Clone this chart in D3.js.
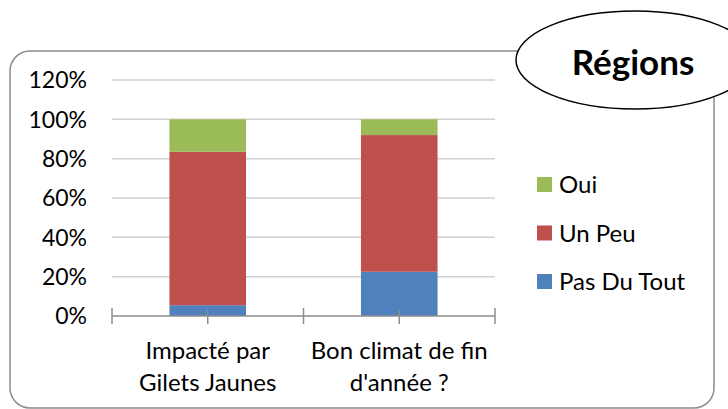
<!DOCTYPE html>
<html>
<head>
<meta charset="utf-8">
<script src="https://cdn.jsdelivr.net/npm/d3@7"></script>
<style>
  body { margin: 0; background: #fff; }
  text { font-family: Lato, 'Open Sans', sans-serif; fill: #000; }
</style>
</head>
<body>
<svg></svg>
<script>
var width = 728,
    height = 409;

// Data
var categories = ['Impacté par|Gilets Jaunes', "Bon climat de fin|d'année ?"];
var seriesNames = ['Pas Du Tout', 'Un Peu', 'Oui'];
var pasDuTout = [0.055, 0.225];
var unPeu = [0.78, 0.695];
var oui = [0.165, 0.08];
var yTicks = [0, 0.2, 0.4, 0.6, 0.8, 1.0, 1.2];
var colors = ['#4F81BD', '#C0504D', '#9BBB59'];
var title = 'Régions';

var rows = categories.map(function(c, i) {
    return { cat: c, 'Pas Du Tout': pasDuTout[i], 'Un Peu': unPeu[i], 'Oui': oui[i] };
});

var svg = d3.select('svg')
    .attr('width', width)
    .attr('height', height);

// Chart frame
svg.append('rect')
    .attr('x', 10)
    .attr('y', 51)
    .attr('width', 704)
    .attr('height', 357)
    .attr('rx', 20)
    .attr('fill', '#fff')
    .attr('stroke', '#8c8c8c')
    .attr('stroke-width', 1.5);

var x = d3.scaleBand()
    .domain(categories)
    .range([112, 495])
    .paddingInner(0)
    .paddingOuter(0);

var y = d3.scaleLinear()
    .domain([0, 1.2])
    .range([316, 80]);

var color = d3.scaleOrdinal()
    .domain(seriesNames)
    .range(colors);

// Gridlines
svg.append('g')
    .selectAll('line')
    .data(yTicks.filter(function(d) { return d > 0; }))
    .enter().append('line')
    .attr('x1', 112)
    .attr('x2', 495)
    .attr('y1', function(d) { return y(d); })
    .attr('y2', function(d) { return y(d); })
    .attr('stroke', '#d0d0d0')
    .attr('stroke-width', 1.5);

// Y labels
svg.append('g')
    .selectAll('text')
    .data(yTicks)
    .enter().append('text')
    .attr('x', 87)
    .attr('y', function(d) { return y(d); })
    .attr('dy', '0.36em')
    .attr('text-anchor', 'end')
    .style('font-size', '23px')
    .text(d3.format('.0%'));

// Stacked bars
var stack = d3.stack().keys(seriesNames)(rows);
var barW = x.bandwidth() * 0.4;

svg.append('g')
    .selectAll('g')
    .data(stack)
    .enter().append('g')
    .attr('fill', function(d) { return color(d.key); })
    .selectAll('rect')
    .data(function(d) { return d; })
    .enter().append('rect')
    .attr('x', function(d) { return x(d.data.cat) + (x.bandwidth() - barW) / 2; })
    .attr('y', function(d) { return y(d[1]); })
    .attr('width', barW)
    .attr('height', function(d) { return y(d[0]) - y(d[1]); });

// X axis line with ticks at band edges and centres
var axisG = svg.append('g').attr('stroke', '#8c8c8c').attr('stroke-width', 1.5);
axisG.append('line')
    .attr('x1', 112).attr('x2', 495)
    .attr('y1', y(0)).attr('y2', y(0));
var tickXs = [x.range()[0]];
categories.forEach(function(c) {
    tickXs.push(x(c) + x.bandwidth() / 2);
    tickXs.push(x(c) + x.bandwidth());
});
axisG.selectAll('line.tick')
    .data(tickXs)
    .enter().append('line')
    .attr('class', 'tick')
    .attr('x1', function(d) { return d; })
    .attr('x2', function(d) { return d; })
    .attr('y1', function(d, i) { return i % 2 ? y(0) - 6 : y(0) - 8; })
    .attr('y2', y(0) + 8);

// Category labels
svg.append('g')
    .selectAll('text')
    .data(categories)
    .enter().append('text')
    .attr('text-anchor', 'middle')
    .style('font-size', '24px')
    .each(function(d) {
        var t = d3.select(this);
        d.split('|').forEach(function(line, i) {
            t.append('tspan')
                .attr('x', x(d) + x.bandwidth() / 2)
                .attr('y', 359 + i * 31.5)
                .text(line);
        });
    });

// Legend
var legend = svg.append('g')
    .selectAll('g')
    .data(seriesNames.slice().reverse())
    .enter().append('g')
    .attr('transform', function(d, i) { return 'translate(537,' + (177 + i * 48.5) + ')'; });

legend.append('rect')
    .attr('width', 15)
    .attr('height', 15)
    .attr('fill', function(d) { return color(d); });

legend.append('text')
    .attr('x', 22)
    .attr('y', 7.5)
    .attr('dy', '0.36em')
    .style('font-size', '24px')
    .text(function(d) { return d; });

// Title ellipse
svg.append('ellipse')
    .attr('cx', 635)
    .attr('cy', 60)
    .attr('rx', 119)
    .attr('ry', 49)
    .attr('fill', '#fff')
    .attr('stroke', '#000')
    .attr('stroke-width', 1.5);

svg.append('text')
    .attr('x', 633)
    .attr('y', 75)
    .attr('text-anchor', 'middle')
    .style('font-size', '35px')
    .style('font-weight', 'bold')
    .text(title);
</script>
</body>
</html>
